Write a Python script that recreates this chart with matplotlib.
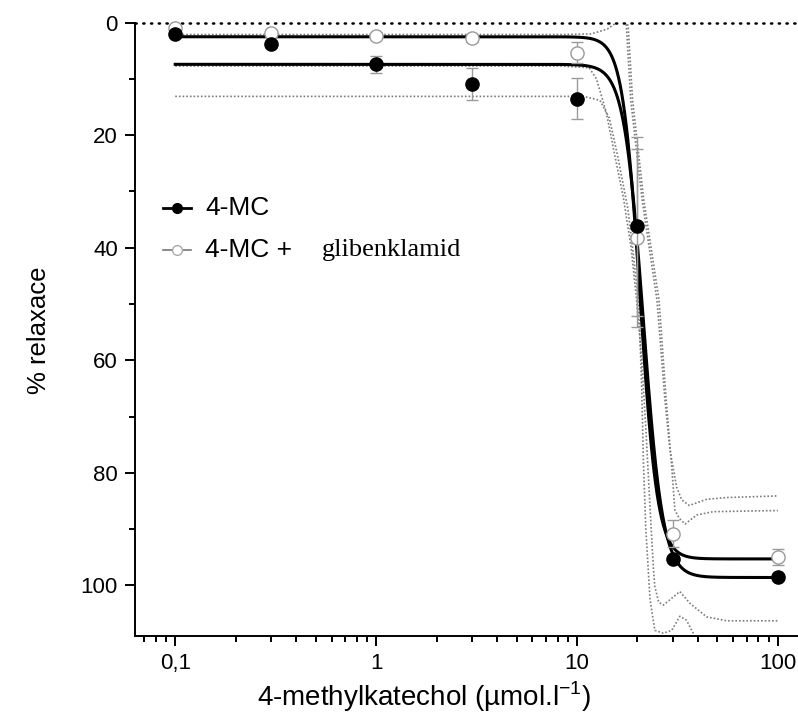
import numpy as np
import matplotlib
matplotlib.use('Agg')
import matplotlib.pyplot as plt
from matplotlib.ticker import FixedLocator, NullFormatter, LogLocator

plt.rcParams['font.family'] = ['Liberation Sans', 'DejaVu Sans']
plt.rcParams['mathtext.fontset'] = 'custom'
plt.rcParams['mathtext.rm'] = 'Liberation Sans'

# naměřené body (průměr, chyba)
conc = [0.1, 0.3, 1, 3, 10, 20, 30, 100]
mc_y = [2.0, 3.8, 7.4, 10.9, 13.5, 36.2, 95.3, 98.5]
mc_err = [0.0, 0.0, 1.5, 2.9, 3.7, 15.9, 0.0, 0.0]
mcg_y = [1.0, 1.9, 2.3, 2.8, 5.3, 38.2, 90.8, 95.0]
mcg_err = [0.5, 0.6, 0.5, 0.6, 1.8, 15.8, 2.4, 1.4]

# parametry fitu (bottom, top, EC50, Hill)
fit_mc = [7.4, 98.6, 21.4, 9.0]
fit_mcg = [2.5, 95.3, 20.6, 10.0]

# 95% pásy spolehlivosti
band_mc_lo_x = [0.1, 8.2, 11.7, 13.1, 14.2, 15.0, 15.6, 16.2, 17.5, 18.0, 18.9, 21.5, 25.6, 27.8, 29.6, 30.7, 32.3, 34.5, 39.4, 47.7, 100]
band_mc_lo_y = [2.1, 2.1, 2.0, 1.5, 1.1, 0.5, 0.1, -1.5, -1.5, 1.0, 13.7, 31.5, 49.3, 67.1, 78.9, 86.6, 88.1, 89.1, 87.5, 86.9, 86.7]
band_mcg_lo_x = [0.1, 16.5, 17.1, 17.6, 18.5, 21.1, 25.0, 27.4, 29.0, 31.3, 33.2, 36.2, 44.2, 55.6, 100]
band_mcg_lo_y = [-2.5, -2.5, -1.0, 0.5, 13.7, 31.5, 49.3, 67.1, 75.9, 82.5, 84.8, 85.8, 84.7, 84.4, 84.1]
band_mcg_hi_x = [0.1, 8.2, 11.5, 12.5, 14.0, 15.5, 17.0, 18.6, 19.8, 21.0, 22.0, 23.0, 24.0, 24.4, 25.5, 26.9, 29.6, 32.5, 36.5, 44.2, 55.6, 100]
band_mcg_hi_y = [7.7, 7.7, 8.0, 10.0, 16.0, 24.0, 31.0, 40.0, 49.3, 60.0, 72.0, 85.0, 97.0, 100.2, 103.0, 103.5, 102.3, 101.1, 103.2, 105.6, 106.3, 106.3]
band_mc_hi_x = [0.1, 10.8, 13.0, 14.5, 16.0, 17.9, 19.2, 20.3, 21.0, 21.4, 22.0, 23.1, 24.4, 26.9, 29.6, 32.5, 35.1, 38.65, 45, 100]
band_mc_hi_y = [13.1, 13.1, 13.8, 17.0, 24.0, 33.0, 42.0, 50.0, 65.0, 78.0, 90.0, 102.6, 108.0, 108.5, 108.0, 105.5, 106.2, 109.1, 111.0, 110.6]

xticks = [0.1, 1, 10, 100]
xticklabels = ['0,1', '1', '10', '100']
yticks = [0, 20, 40, 60, 80, 100]


def hill(x, p):
    bottom, top, ec50, h = p
    return bottom + (top - bottom) / (1 + (ec50 / x) ** h)


fig = plt.figure(figsize=(7.98, 7.18), dpi=100)
ax = fig.add_axes([0.1696, 0.1142, 0.8304, 0.8542])

xs = np.logspace(-1, 2, 800)

band_style = dict(color='#7c7c7c', lw=1.2, ls=(0, (1, 1.2)), zorder=2)
ax.plot(band_mc_lo_x, band_mc_lo_y, **band_style)
ax.plot(band_mcg_lo_x, band_mcg_lo_y, **band_style)
ax.plot(band_mcg_hi_x, band_mcg_hi_y, **band_style)
ax.plot(band_mc_hi_x, band_mc_hi_y, **band_style)

ax.plot(xs, hill(xs, fit_mc), color='black', lw=2.2, zorder=3)
ax.plot(xs, hill(xs, fit_mcg), color='black', lw=2.2, zorder=3)

ax.errorbar(conc, mcg_y, yerr=mcg_err, fmt='o', ms=9.5, mfc='white', mec='#9a9a9a',
            mew=1.0, ecolor='#9a9a9a', elinewidth=1.0, capsize=4.5, capthick=1.0, zorder=4,
            clip_on=False)
ax.errorbar(conc, mc_y, yerr=mc_err, fmt='o', ms=9.5, mfc='black', mec='black',
            ecolor='#9a9a9a', elinewidth=1.0, capsize=4.5, capthick=1.0, zorder=5,
            clip_on=False)

ax.axhline(0, color='black', lw=1.8, ls=(0, (0.5, 2.6)), dash_capstyle='round', clip_on=False, zorder=1)

ax.set_xscale('log')
ax.set_xlim(10 ** (-1.1985), 10 ** (2.1))
ax.set_ylim(109, 0)

ax.xaxis.set_major_locator(FixedLocator(xticks))
ax.set_xticklabels(xticklabels)
ax.xaxis.set_minor_locator(LogLocator(base=10, subs=np.arange(2, 10)))
ax.xaxis.set_minor_formatter(NullFormatter())
ax.set_yticks(yticks)
ax.yaxis.set_minor_locator(FixedLocator([10, 30, 50, 70, 90]))

for s in ['top', 'right']:
    ax.spines[s].set_visible(False)
for s in ['left', 'bottom']:
    ax.spines[s].set_linewidth(1.4)
ax.tick_params(which='major', length=7.5, width=1.4, labelsize=16, pad=5)
ax.tick_params(which='minor', length=4.5, width=1.4)

ax.set_xlabel('4-methylkatechol (µmol.l$^{\\mathregular{-1}}$)', fontsize=20)
ax.set_ylabel('% relaxace', fontsize=18.5)
ax.xaxis.set_label_coords(0.435, -0.071)
ax.yaxis.set_label_coords(-0.128, 0.499)

# legenda
ax.plot([0.042, 0.084], [0.698, 0.698], color='black', lw=2.0, transform=ax.transAxes, clip_on=False)
ax.plot([0.063], [0.698], 'o', ms=7, color='black', transform=ax.transAxes, clip_on=False)
ax.text(0.105, 0.698, '4-MC', fontsize=19, va='center', transform=ax.transAxes)
ax.plot([0.042, 0.084], [0.629, 0.629], color='#777777', lw=1.2, transform=ax.transAxes, clip_on=False)
ax.plot([0.063], [0.629], 'o', ms=7, mfc='white', mec='#aaaaaa', mew=1.0, transform=ax.transAxes, clip_on=False)
ax.text(0.105, 0.629, '4-MC +', fontsize=19, va='center', transform=ax.transAxes)
ax.text(0.2817, 0.629, 'glibenklamid', fontsize=19, va='center', family=['Liberation Serif', 'DejaVu Serif'],
        transform=ax.transAxes)

fig.savefig('out.png', dpi=100)
